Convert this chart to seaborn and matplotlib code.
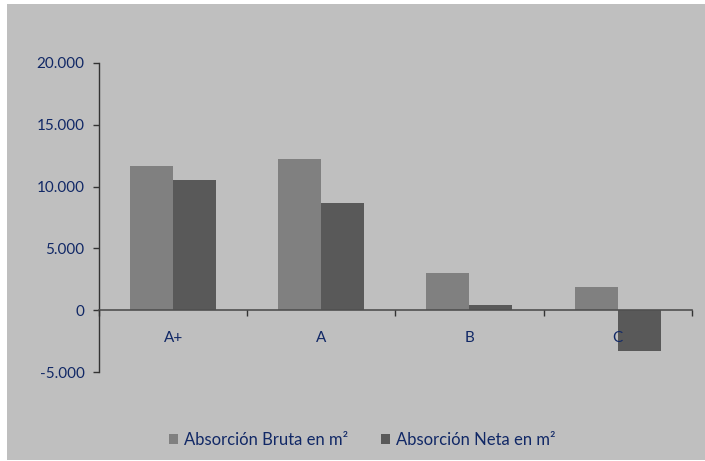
import matplotlib
matplotlib.use("Agg")
import matplotlib.pyplot as plt
import matplotlib.ticker as mticker
from matplotlib.patches import Rectangle
import seaborn as sns
import pandas as pd

categorias = ["A+", "A", "B", "C"]
series = ["Absorción Bruta en m²", "Absorción Neta en m²"]
bruta = [11700, 12250, 3000, 1870]
neta = [10550, 8680, 400, -3300]
colores = ["#808080", "#595959"]
y_ticks = [-5000, 0, 5000, 10000, 15000, 20000]

texto = "#112866"
fondo = "#bfbfbf"

df = pd.DataFrame({
    "categoria": categorias * 2,
    "valor": bruta + neta,
    "serie": [series[0]] * len(categorias) + [series[1]] * len(categorias),
})

sns.set_theme(style="white")
plt.rcParams["font.family"] = ["Lato", "DejaVu Sans"]

fig = plt.figure(figsize=(7.05, 4.61), dpi=100)
fig.patch.set_facecolor("white")
fig.patches.append(Rectangle((7 / 705, 1 / 461), 698 / 705, 456 / 461,
                             transform=fig.transFigure, facecolor=fondo,
                             edgecolor="none", zorder=-10))

ax = fig.add_axes([99 / 705, 89 / 461, 592.7 / 705, 309 / 461])
ax.set_facecolor("none")

sns.barplot(data=df, x="categoria", y="valor", hue="serie", order=categorias,
            hue_order=series, palette=colores, width=0.58, saturation=1,
            linewidth=0, edgecolor="none", ax=ax, legend=False)
for bar in ax.patches:
    bar.set_zorder(1)

ax.set_axisbelow(False)
ax.xaxis.set_zorder(3)

ax.set_xlim(-0.5, len(categorias) - 0.5)
ax.set_ylim(min(y_ticks), max(y_ticks))
ax.set_yticks(y_ticks)
ax.yaxis.set_major_formatter(mticker.FuncFormatter(
    lambda v, _: f"{int(v):,}".replace(",", ".")))

for s in ["top", "right"]:
    ax.spines[s].set_visible(False)
ax.spines["bottom"].set_position(("data", 0))
ax.spines["bottom"].set_color("#505050")
ax.spines["bottom"].set_linewidth(1.2)
ax.spines["bottom"].set_zorder(3)
ax.spines["left"].set_color("#333333")
ax.spines["left"].set_linewidth(1.0)

ax.set_xticks(range(len(categorias)))
ax.set_xticklabels(categorias)
ax.set_xticks([i - 0.5 for i in range(len(categorias) + 1)], minor=True)
ax.tick_params(axis="x", which="major", length=0, pad=15, labelsize=11,
               labelcolor=texto)
ax.tick_params(axis="x", which="minor", length=4, width=1, direction="out",
               color="#333333", bottom=True)
ax.tick_params(axis="y", length=4.5, width=1, direction="out", color="#333333",
               left=True, labelsize=11, labelcolor=texto, pad=6)
ax.set_xlabel("")
ax.set_ylabel("")

handles = [Rectangle((0, 0), 1, 1, facecolor=c, edgecolor="none") for c in colores]
fig.legend(handles, series, loc="center", bbox_to_anchor=(362 / 705, 1 - 440 / 461),
           ncol=2, frameon=False, fontsize=12, handlelength=0.55,
           handleheight=0.55, handletextpad=0.35, columnspacing=2.0,
           labelcolor=texto)

fig.savefig("out.png", dpi=100, facecolor="white")
